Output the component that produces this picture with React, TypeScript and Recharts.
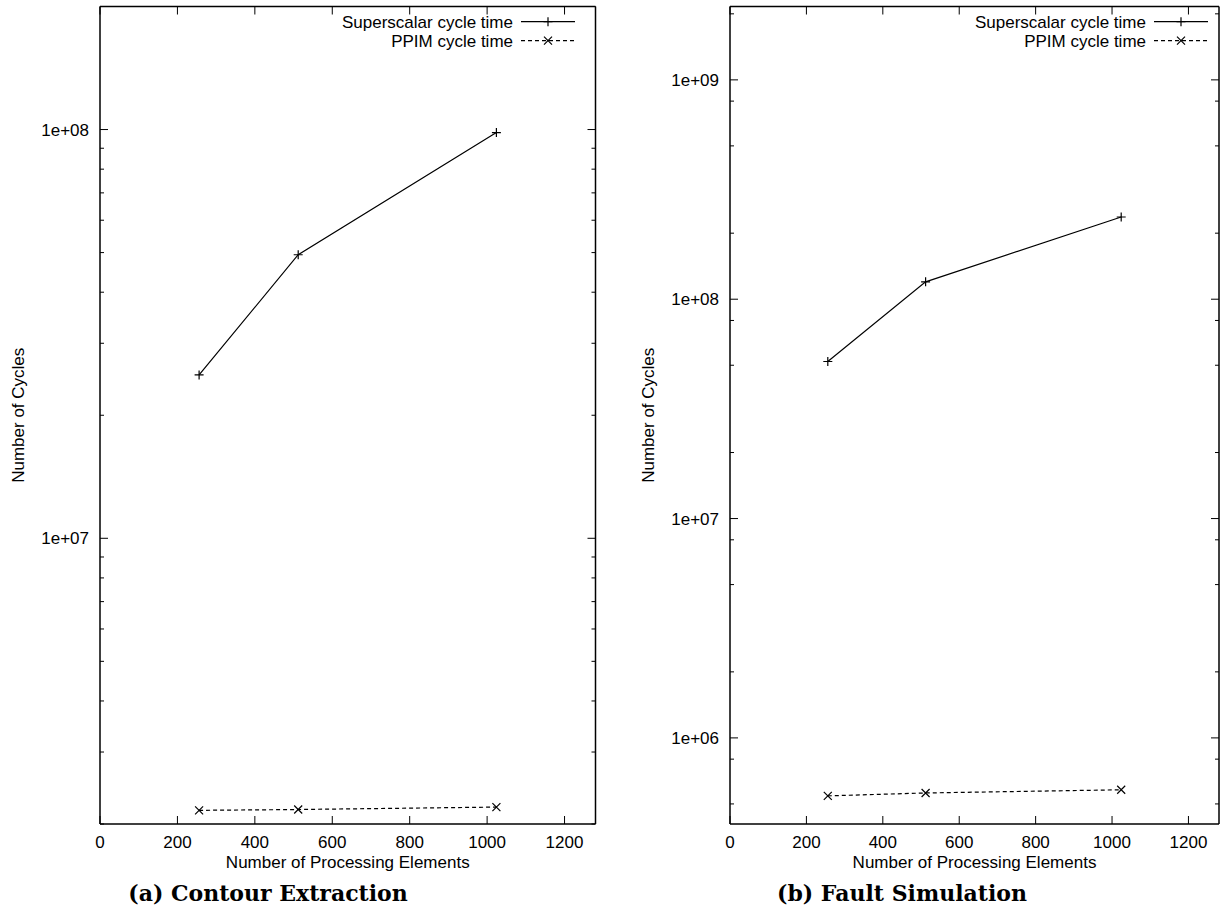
import React from 'react';
import { LineChart, Line, XAxis, YAxis, Legend } from 'recharts';

// ---------- data ----------
const peCounts = [256, 512, 1024];
const contourSuperscalar = [2.51e7, 4.94e7, 9.83e7];
const contourPPIM = [2.16e6, 2.17e6, 2.2e6];
const faultSuperscalar = [5.2e7, 1.2e8, 2.37e8];
const faultPPIM = [5.44e5, 5.61e5, 5.8e5];

const seriesNames = ['Superscalar cycle time', 'PPIM cycle time'];
const captions = ['(a) Contour Extraction', '(b) Fault Simulation'];
const xAxisTitle = 'Number of Processing Elements';
const yAxisTitle = 'Number of Cycles';

const xTicks = [0, 200, 400, 600, 800, 1000, 1200];
const xDomain = [0, 1280];
const contourYTicks = [
  2e6, 3e6, 4e6, 5e6, 6e6, 7e6, 8e6, 9e6,
  1e7, 2e7, 3e7, 4e7, 5e7, 6e7, 7e7, 8e7, 9e7,
  1e8, 2e8,
];
const faultYTicks = [
  5e5, 8e5, 1e6, 2e6, 5e6, 8e6, 1e7, 2e7, 5e7, 8e7,
  1e8, 2e8, 5e8, 8e8, 1e9, 2e9,
];
const contourYDomain = [2e6, 2e8];
const faultYDomain = [4.05e5, 2.16e9];

const contourData = peCounts.map((pe, i) => ({
  pe,
  superscalar: contourSuperscalar[i],
  ppim: contourPPIM[i],
}));
const faultData = peCounts.map((pe, i) => ({
  pe,
  superscalar: faultSuperscalar[i],
  ppim: faultPPIM[i],
}));

// ---------- styling ----------
const FONT = '"Liberation Sans", Arial, Helvetica, sans-serif';
const FS = 17;
const MAJOR = 8;
const MINOR = 4;
const INK = '#000';

function isMajor(v: number) {
  const l = Math.log10(v);
  return Math.abs(l - Math.round(l)) < 1e-6;
}
function fmtExp(v: number) {
  const e = Math.round(Math.log10(v));
  return `1e+${String(e).padStart(2, '0')}`;
}

const LeftYTick = (props: any) => {
  const { x, y, payload } = props;
  const major = isMajor(payload.value);
  return (
    <g>
      <line x1={x} x2={x + (major ? MAJOR : MINOR)} y1={y} y2={y} stroke={INK} strokeWidth={1} />
      {major && (
        <text x={x - 11} y={y} dy={6} textAnchor="end" fontSize={FS} fontFamily={FONT} fill={INK}>
          {fmtExp(payload.value)}
        </text>
      )}
    </g>
  );
};
const RightYTick = (props: any) => {
  const { x, y, payload } = props;
  const major = isMajor(payload.value);
  return <line x1={x} x2={x - (major ? MAJOR : MINOR)} y1={y} y2={y} stroke={INK} strokeWidth={1} />;
};
const BottomXTick = (props: any) => {
  const { x, y, payload } = props;
  return (
    <g>
      <line x1={x} x2={x} y1={y} y2={y - MAJOR} stroke={INK} strokeWidth={1} />
      <text x={x} y={y + 24} textAnchor="middle" fontSize={FS} fontFamily={FONT} fill={INK}>
        {payload.value}
      </text>
    </g>
  );
};
const TopXTick = (props: any) => {
  const { x, y } = props;
  return <line x1={x} x2={x} y1={y} y2={y + MAJOR} stroke={INK} strokeWidth={1} />;
};

const PlusDot = (props: any) => {
  const { cx, cy, index } = props;
  if (cx == null || cy == null) return <g key={`p${index}`} />;
  const s = 4.5;
  return (
    <path key={`p${index}`} d={`M${cx - s},${cy}H${cx + s}M${cx},${cy - s}V${cy + s}`}
      stroke={INK} strokeWidth={1.2} fill="none" strokeDasharray="none" />
  );
};
const CrossDot = (props: any) => {
  const { cx, cy, index } = props;
  if (cx == null || cy == null) return <g key={`x${index}`} />;
  const s = 4;
  return (
    <path key={`x${index}`} d={`M${cx - s},${cy - s}L${cx + s},${cy + s}M${cx - s},${cy + s}L${cx + s},${cy - s}`}
      stroke={INK} strokeWidth={1.2} fill="none" strokeDasharray="none" />
  );
};

const LegendBox = ({ payload, textRight, lineLen }: any) => {
  const rows = [...(payload || [])]
    .filter((it: any) => seriesNames.indexOf(it.value) >= 0)
    .sort((a: any, b: any) => seriesNames.indexOf(a.value) - seriesNames.indexOf(b.value));
  return (
    <svg width={textRight + 12 + lineLen} height={50} style={{ overflow: 'visible', display: 'block' }}>
      {rows.map((item: any) => {
        const i = seriesNames.indexOf(item.value);
        const cy = 21.7 + i * 19;
        const x1 = textRight + 8;
        const x2 = x1 + lineLen;
        const mx = (x1 + x2) / 2;
        const dashed = i === 1;
        return (
          <g key={item.value}>
            <text x={textRight} y={cy + 6} textAnchor="end" fontSize={FS} fontFamily={FONT} fill={INK}>
              {item.value}
            </text>
            <line x1={x1} x2={x2} y1={cy} y2={cy} stroke={INK} strokeWidth={1.2}
              strokeDasharray={dashed ? '4 3' : undefined} />
            {dashed ? (
              <path d={`M${mx - 4},${cy - 4}L${mx + 4},${cy + 4}M${mx - 4},${cy + 4}L${mx + 4},${cy - 4}`} stroke={INK} strokeWidth={1.2} />
            ) : (
              <path d={`M${mx - 4.5},${cy}H${mx + 4.5}M${mx},${cy - 4.5}V${cy + 4.5}`} stroke={INK} strokeWidth={1.2} />
            )}
          </g>
        );
      })}
    </svg>
  );
};

type PanelProps = {
  data: any[];
  yTicks: number[];
  yDomain: number[];
  width: number;
  marginRight: number;
  legendLeft: number;
  legendTextRight: number;
  legendLineLen: number;
};

const Panel = ({ data, yTicks, yDomain, width, marginRight, legendLeft, legendTextRight, legendLineLen }: PanelProps) => {
  const axisLine = { stroke: INK, strokeWidth: 1.5 };
  return (
    <LineChart width={width} height={924} data={data}
      margin={{ top: 5.5, right: marginRight, bottom: 0, left: 0 }}>
      <XAxis xAxisId="bottom" dataKey="pe" type="number" domain={xDomain} ticks={xTicks}
        interval={0} height={100} tickSize={0} tickMargin={0} tickLine={false}
        axisLine={axisLine} tick={<BottomXTick />} allowDataOverflow
        label={(p: any) => {
          const vb = p.viewBox;
          return (
            <text x={vb.x + vb.width / 2} y={vb.y + 44} textAnchor="middle" fontSize={FS} fontFamily={FONT} fill={INK}>
              {xAxisTitle}
            </text>
          );
        }} />
      <XAxis xAxisId="top" orientation="top" dataKey="pe" type="number" domain={xDomain} ticks={xTicks}
        interval={0} height={1} tickSize={0} tickMargin={0} tickLine={false}
        axisLine={axisLine} tick={<TopXTick />} allowDataOverflow />
      <YAxis yAxisId="left" orientation="left" type="number" scale="log" domain={yDomain} ticks={yTicks}
        interval={0} width={100} tickSize={0} tickMargin={0} tickLine={false}
        axisLine={axisLine} tick={<LeftYTick />} allowDataOverflow
        label={(p: any) => {
          const vb = p.viewBox;
          const cx = vb.x + 18;
          const cy = vb.y + vb.height / 2;
          return (
            <text x={cx} y={cy} transform={`rotate(-90, ${cx}, ${cy})`} dy={6} textAnchor="middle"
              fontSize={FS} fontFamily={FONT} fill={INK}>
              {yAxisTitle}
            </text>
          );
        }} />
      <YAxis yAxisId="right" orientation="right" type="number" scale="log" domain={yDomain} ticks={yTicks}
        interval={0} width={1} tickSize={0} tickMargin={0} tickLine={false}
        axisLine={axisLine} tick={<RightYTick />} allowDataOverflow />
      <Legend layout="vertical" align="center" verticalAlign="middle"
        wrapperStyle={{ left: legendLeft, top: 0, width: legendTextRight + 12 + legendLineLen, height: 50 }}
        content={(p: any) => <LegendBox payload={p.payload} textRight={legendTextRight} lineLen={legendLineLen} />} />
      <Line xAxisId="bottom" yAxisId="left" type="linear" dataKey="superscalar" name={seriesNames[0]}
        stroke={INK} strokeWidth={1.2} dot={(p: any) => <PlusDot key={`p${p.index}`} {...p} />}
        isAnimationActive={false} legendType="plainline" />
      <Line xAxisId="bottom" yAxisId="left" type="linear" dataKey="ppim" name={seriesNames[1]}
        stroke={INK} strokeWidth={1.2} strokeDasharray="4 3"
        dot={(p: any) => <CrossDot key={`x${p.index}`} {...p} />}
        isAnimationActive={false} legendType="plainline" />
    </LineChart>
  );
};

const captionStyle: React.CSSProperties = {
  position: 'absolute',
  top: 878,
  height: 30,
  lineHeight: '30px',
  textAlign: 'center',
  fontFamily: '"DejaVu Serif", "Liberation Serif", serif',
  fontWeight: 'bold',
  fontSize: 22,
  color: INK,
  whiteSpace: 'nowrap',
};

export default function App() {
  return (
    <div style={{ position: 'absolute', left: 0, top: 0, width: 1227, height: 924, background: '#fff', overflow: 'hidden' }}>
      <div style={{ position: 'absolute', left: 0, top: 0 }}>
        <Panel data={contourData} yTicks={contourYTicks} yDomain={contourYDomain}
          width={610} marginRight={13.5} legendLeft={343} legendTextRight={170} legendLineLen={54} />
      </div>
      <div style={{ position: 'absolute', left: 630, top: 0 }}>
        <Panel data={faultData} yTicks={faultYTicks} yDomain={faultYDomain}
          width={597} marginRight={7} legendLeft={346} legendTextRight={170} legendLineLen={54} />
      </div>
      <div style={{ ...captionStyle, left: 0, width: 536 }}>{captions[0]}</div>
      <div style={{ ...captionStyle, left: 630, width: 544 }}>{captions[1]}</div>
    </div>
  );
}
